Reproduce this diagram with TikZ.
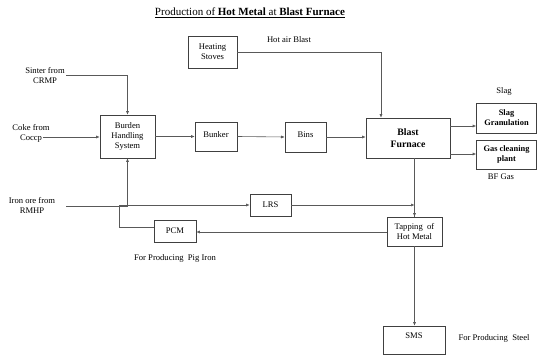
\documentclass[tikz,border=0pt]{standalone}
\usepackage{fontspec}
\setmainfont{Liberation Serif}
\usetikzlibrary{arrows.meta}
\begin{document}
\begin{tikzpicture}[x=1pt,y=-1pt,
  box/.style={draw=black!75,line width=0.6pt,fill=white,align=center,inner sep=1pt,font=\fontsize{8.6}{10}\selectfont},
  lbl/.style={align=center,inner sep=0pt,font=\fontsize{8.6}{10}\selectfont},
  conn/.style={draw=black!65,line width=0.6pt},
  arr/.style={conn,-{Latex[length=3.5pt,width=3pt]}}]
\useasboundingbox (0,0) rectangle (537,355);
% title
\node[inner sep=0pt,font=\fontsize{11}{13}\selectfont] (title) at (250,13) {\underline{Production of \textbf{Hot Metal} at \textbf{Blast Furnace}}};
% boxes
\node[box,minimum width=49pt,minimum height=32pt] (hs) at (212.5,52) {Heating\\Stoves};
\node[box,minimum width=55pt,minimum height=43pt] (bhs) at (127.5,136.5) {Burden\\Handling\\System};
\node[box,minimum width=42pt,minimum height=29pt,text depth=4pt] (bunker) at (216,136.5) {Bunker};
\node[box,minimum width=41pt,minimum height=30pt,text depth=4pt] (bins) at (305.5,137) {Bins};
\node[box,minimum width=84pt,minimum height=40pt,font=\fontsize{9.8}{12}\selectfont\bfseries] (bf) at (408,138) {Blast\\Furnace};
\node[box,minimum width=60pt,minimum height=30pt,font=\fontsize{8.4}{10}\selectfont\bfseries] (sg) at (506.5,118) {Slag\\Granulation};
\node[box,minimum width=60pt,minimum height=29pt,font=\fontsize{8.4}{10}\selectfont\bfseries] (gcp) at (506.5,154.5) {Gas cleaning\\plant};
\node[box,minimum width=55pt,minimum height=29pt] (tap) at (414.5,231.5) {Tapping\ \ of\\Hot Metal};
\node[box,minimum width=41pt,minimum height=22pt] (lrs) at (270.5,205) {LRS};
\node[box,minimum width=42pt,minimum height=22pt] (pcm) at (175,231) {PCM};
\node[box,minimum width=62pt,minimum height=28pt,text height=6pt,text depth=10pt] (sms) at (414,340) {SMS};
% labels
\node[lbl] (sinter) at (45,76) {Sinter from\\CRMP};
\node[lbl] (coke) at (31,133) {Coke from\\Coccp};
\node[lbl] (iron) at (32,205) {Iron ore from\\RMHP};
\node[lbl] (hab) at (289,40) {Hot air Blast};
\node[lbl] (slag) at (504,91) {Slag};
\node[lbl] (bfgas) at (501,177) {BF Gas};
\node[lbl] (pig) at (175,258) {For Producing\ \ Pig Iron};
\node[lbl] (steel) at (494,338) {For Producing\ \ Steel};
% free ends
\coordinate (s0) at (66,75);
\coordinate (c0) at (43,137);
\coordinate (i0) at (66,206);
% connectors
\draw[arr] (s0) -| (bhs.north);
\draw[arr] (c0) -- (c0 -| bhs.west);
\draw[arr] (i0) -| (bhs.south);
\draw[arr] (bhs.east) -- (bunker.west);
\draw[arr] (bunker.east) -- (bins.west);
\draw[arr] (bins.east) -- (bins.east -| bf.west);
\draw[arr] (hs.east) -| ([xshift=-27pt]bf.north);
\draw[arr] ([yshift=12pt]bf.east) -- ([yshift=12pt]bf.east -| sg.west);
\draw[arr] ([yshift=-16pt]bf.east) -- ([yshift=-16pt]bf.east -| gcp.west);
\draw[conn] (bf.south -| tap.north) -- (tap.north);
\draw[arr] ([yshift=1pt]tap.north) -- (tap.north);
\draw[arr] (lrs.east) -- (lrs.east -| tap.north);
\draw[arr] ([yshift=-0.5pt]tap.west) -- ([yshift=-0.5pt]tap.west -| pcm.east);
\draw[arr] ([yshift=4pt]pcm.west) -- ++(-34,0) |- (lrs.west);
\draw[arr] (tap.south) -- (tap.south |- sms.north);
\end{tikzpicture}
\end{document}
